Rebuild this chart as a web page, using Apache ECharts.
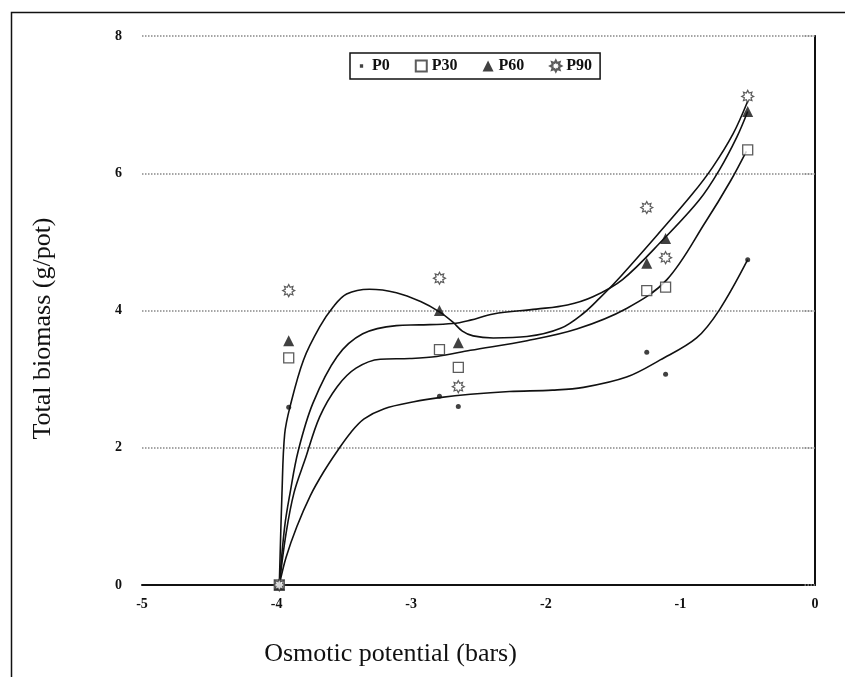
<!DOCTYPE html>
<html>
<head>
<meta charset="utf-8">
<script src="https://cdn.jsdelivr.net/npm/echarts@6/dist/echarts.min.js"></script>
<style>html,body{margin:0;padding:0;background:#fff;}#c{width:845px;height:677px;}</style>
</head>
<body>
<div id="c"></div>
<script>
// ---- data ----
var xTicks = [-5, -4, -3, -2, -1, 0];
var yTicks = [0, 2, 4, 6, 8];
var seriesNames = ['P0', 'P30', 'P60', 'P90'];
var potential = [-3.98, -3.91, -2.79, -2.65, -1.25, -1.11, -0.5];
var P0  = [0, 2.59, 2.75, 2.60, 3.39, 3.07, 4.74];
var P30 = [0, 3.31, 3.43, 3.17, 4.29, 4.34, 6.34];
var P60 = [0, 3.56, 4.00, 3.53, 4.69, 5.05, 6.90];
var P90 = [0, 4.29, 4.47, 2.89, 5.50, 4.77, 7.12];

// fitted curves [x, y]
var curveP0 = [[-3.98,0],[-3.93,0.4],[-3.85,0.85],[-3.75,1.3],[-3.65,1.65],[-3.55,1.95],[-3.45,2.22],[-3.35,2.42],[-3.2,2.57],[-2.98,2.67],[-2.79,2.73],[-2.56,2.78],[-2.27,2.82],[-1.95,2.84],[-1.72,2.88],[-1.40,3.03],[-1.15,3.28],[-0.88,3.60],[-0.71,4.01],[-0.5,4.74]];
var curveP30 = [[-3.98,0],[-3.93,0.75],[-3.87,1.35],[-3.79,1.82],[-3.68,2.45],[-3.55,2.89],[-3.41,3.16],[-3.23,3.29],[-3.01,3.30],[-2.81,3.33],[-2.56,3.42],[-2.14,3.56],[-1.77,3.73],[-1.40,4.03],[-1.10,4.45],[-0.81,5.30],[-0.63,5.88],[-0.51,6.32]];
var curveP60 = [[-3.98,0],[-3.94,0.85],[-3.90,1.34],[-3.84,1.95],[-3.73,2.65],[-3.55,3.33],[-3.36,3.66],[-3.11,3.78],[-2.94,3.79],[-2.69,3.81],[-2.56,3.86],[-2.39,3.95],[-2.07,4.02],[-1.84,4.08],[-1.65,4.20],[-1.43,4.45],[-1.13,5.03],[-0.86,5.61],[-0.71,6.05],[-0.58,6.53],[-0.5,6.9]];
var curveP90 = [[-3.98,0],[-3.96,1.34],[-3.94,2.2],[-3.90,2.6],[-3.80,3.28],[-3.68,3.76],[-3.58,4.05],[-3.48,4.24],[-3.31,4.31],[-3.11,4.26],[-2.93,4.13],[-2.79,3.98],[-2.69,3.83],[-2.62,3.70],[-2.54,3.63],[-2.39,3.60],[-2.14,3.62],[-1.89,3.74],[-1.72,3.96],[-1.60,4.18],[-1.47,4.44],[-1.15,5.15],[-0.91,5.70],[-0.76,6.09],[-0.61,6.57],[-0.5,7.05]];

// ---- styling helpers ----
function starPath(n, rIn) {
  var s = 'path://';
  for (var i = 0; i < n * 2; i++) {
    var r = (i % 2 === 0) ? 10 : 10 * rIn;
    var a = Math.PI * i / n - Math.PI / 2;
    var x = (10 + r * Math.cos(a)).toFixed(2), y = (10 + r * Math.sin(a)).toFixed(2);
    s += (i === 0 ? 'M' : 'L') + x + ' ' + y + ' ';
  }
  return s + 'Z';
}
function pairs(ys) { return potential.map(function (x, i) { return [x, ys[i]]; }); }
var FONT = '"Liberation Serif", "DejaVu Serif", serif';

var markerStyles = {
  P0:  { symbol: 'circle', symbolSize: 5, itemStyle: { color: '#111' } },
  P30: { symbol: 'rect', symbolSize: 10, itemStyle: { color: '#fff', borderColor: '#333', borderWidth: 1.3 } },
  P60: { symbol: 'triangle', symbolSize: 11, itemStyle: { color: '#111' } },
  P90: { symbol: starPath(8, 0.6), symbolSize: 12, itemStyle: { color: '#fff', borderColor: '#333', borderWidth: 1.2 } }
};
var values = { P0: P0, P30: P30, P60: P60, P90: P90 };
var curves = { P0: curveP0, P30: curveP30, P60: curveP60, P90: curveP90 };

var series = [];
seriesNames.forEach(function (n) {
  series.push({
    name: n + ' fit', type: 'line', data: curves[n], smooth: 0.35, showSymbol: false,
    lineStyle: { color: '#111', width: 1.6 }, z: 2, silent: true
  });
});
seriesNames.forEach(function (n) {
  var m = markerStyles[n];
  series.push({
    name: n, type: 'scatter', data: pairs(values[n]), symbol: m.symbol,
    symbolSize: m.symbolSize, itemStyle: m.itemStyle, z: 5
  });
});

var legendData = seriesNames.map(function (n) {
  return n === 'P0' ? { name: n, icon: 'path://M7 7 L13 7 L13 13 L7 13 Z M0 0 L0.01 0 M20 20 L20.01 20' } : { name: n };
});

var chart = echarts.init(document.getElementById('c'));
chart.setOption({
  animation: false,
  backgroundColor: '#fff',
  grid: { left: 142, right: 30, top: 36, bottom: 92 },
  legend: {
    data: legendData, left: 350, top: 53, orient: 'horizontal',
    borderColor: '#111', borderWidth: 1.5, padding: [5, 8, 5, 6],
    itemWidth: 11, itemHeight: 11, itemGap: 25,
    textStyle: { fontFamily: FONT, fontSize: 16, fontWeight: 'bold', color: '#111' }
  },
  graphic: [{
    type: 'rect', left: 9, top: 10, z: -1,
    shape: { x: 0, y: 0, width: 860, height: 700 },
    style: { fill: 'none', stroke: '#111', lineWidth: 1.5 }
  }],
  xAxis: {
    type: 'value', min: -5, max: 0, interval: 1,
    name: 'Osmotic potential (bars)', nameLocation: 'middle', nameGap: 56,
    nameTextStyle: { fontFamily: FONT, fontSize: 26, color: '#111', padding: [0, 176, 0, 0] },
    axisLine: { onZero: false, lineStyle: { color: '#111', width: 2 } },
    axisTick: { show: false },
    axisLabel: { margin: 12, fontFamily: FONT, fontSize: 14, fontWeight: 'bold', color: '#111',
      formatter: function (v) { return xTicks.indexOf(v) >= 0 ? String(v) : ''; } },
    splitLine: { show: false }
  },
  yAxis: [{
    type: 'value', min: 0, max: 8, interval: 2,
    name: 'Total biomass (g/pot)', nameLocation: 'middle', nameGap: 86,
    nameTextStyle: { fontFamily: FONT, fontSize: 26, color: '#111', padding: [0, 36, 0, 0] },
    axisLine: { lineStyle: { color: '#111', width: 2 } },
    axisTick: { show: true, length: 12, lineStyle: { color: '#888', type: 'dotted', width: 1.5 } },
    axisLabel: { margin: 20, fontFamily: FONT, fontSize: 14, fontWeight: 'bold', color: '#111',
      formatter: function (v) { return yTicks.indexOf(v) >= 0 ? String(v) : ''; } },
    splitLine: { lineStyle: { color: '#888', type: 'dotted', width: 1.5 } }
  }, {
    type: 'value', min: 0, max: 8, interval: 2, position: 'right',
    axisLine: { show: true, lineStyle: { color: '#111', width: 1.5 } },
    axisTick: { show: false }, axisLabel: { show: false }, splitLine: { show: false }
  }],
  series: series
});
</script>
</body>
</html>
